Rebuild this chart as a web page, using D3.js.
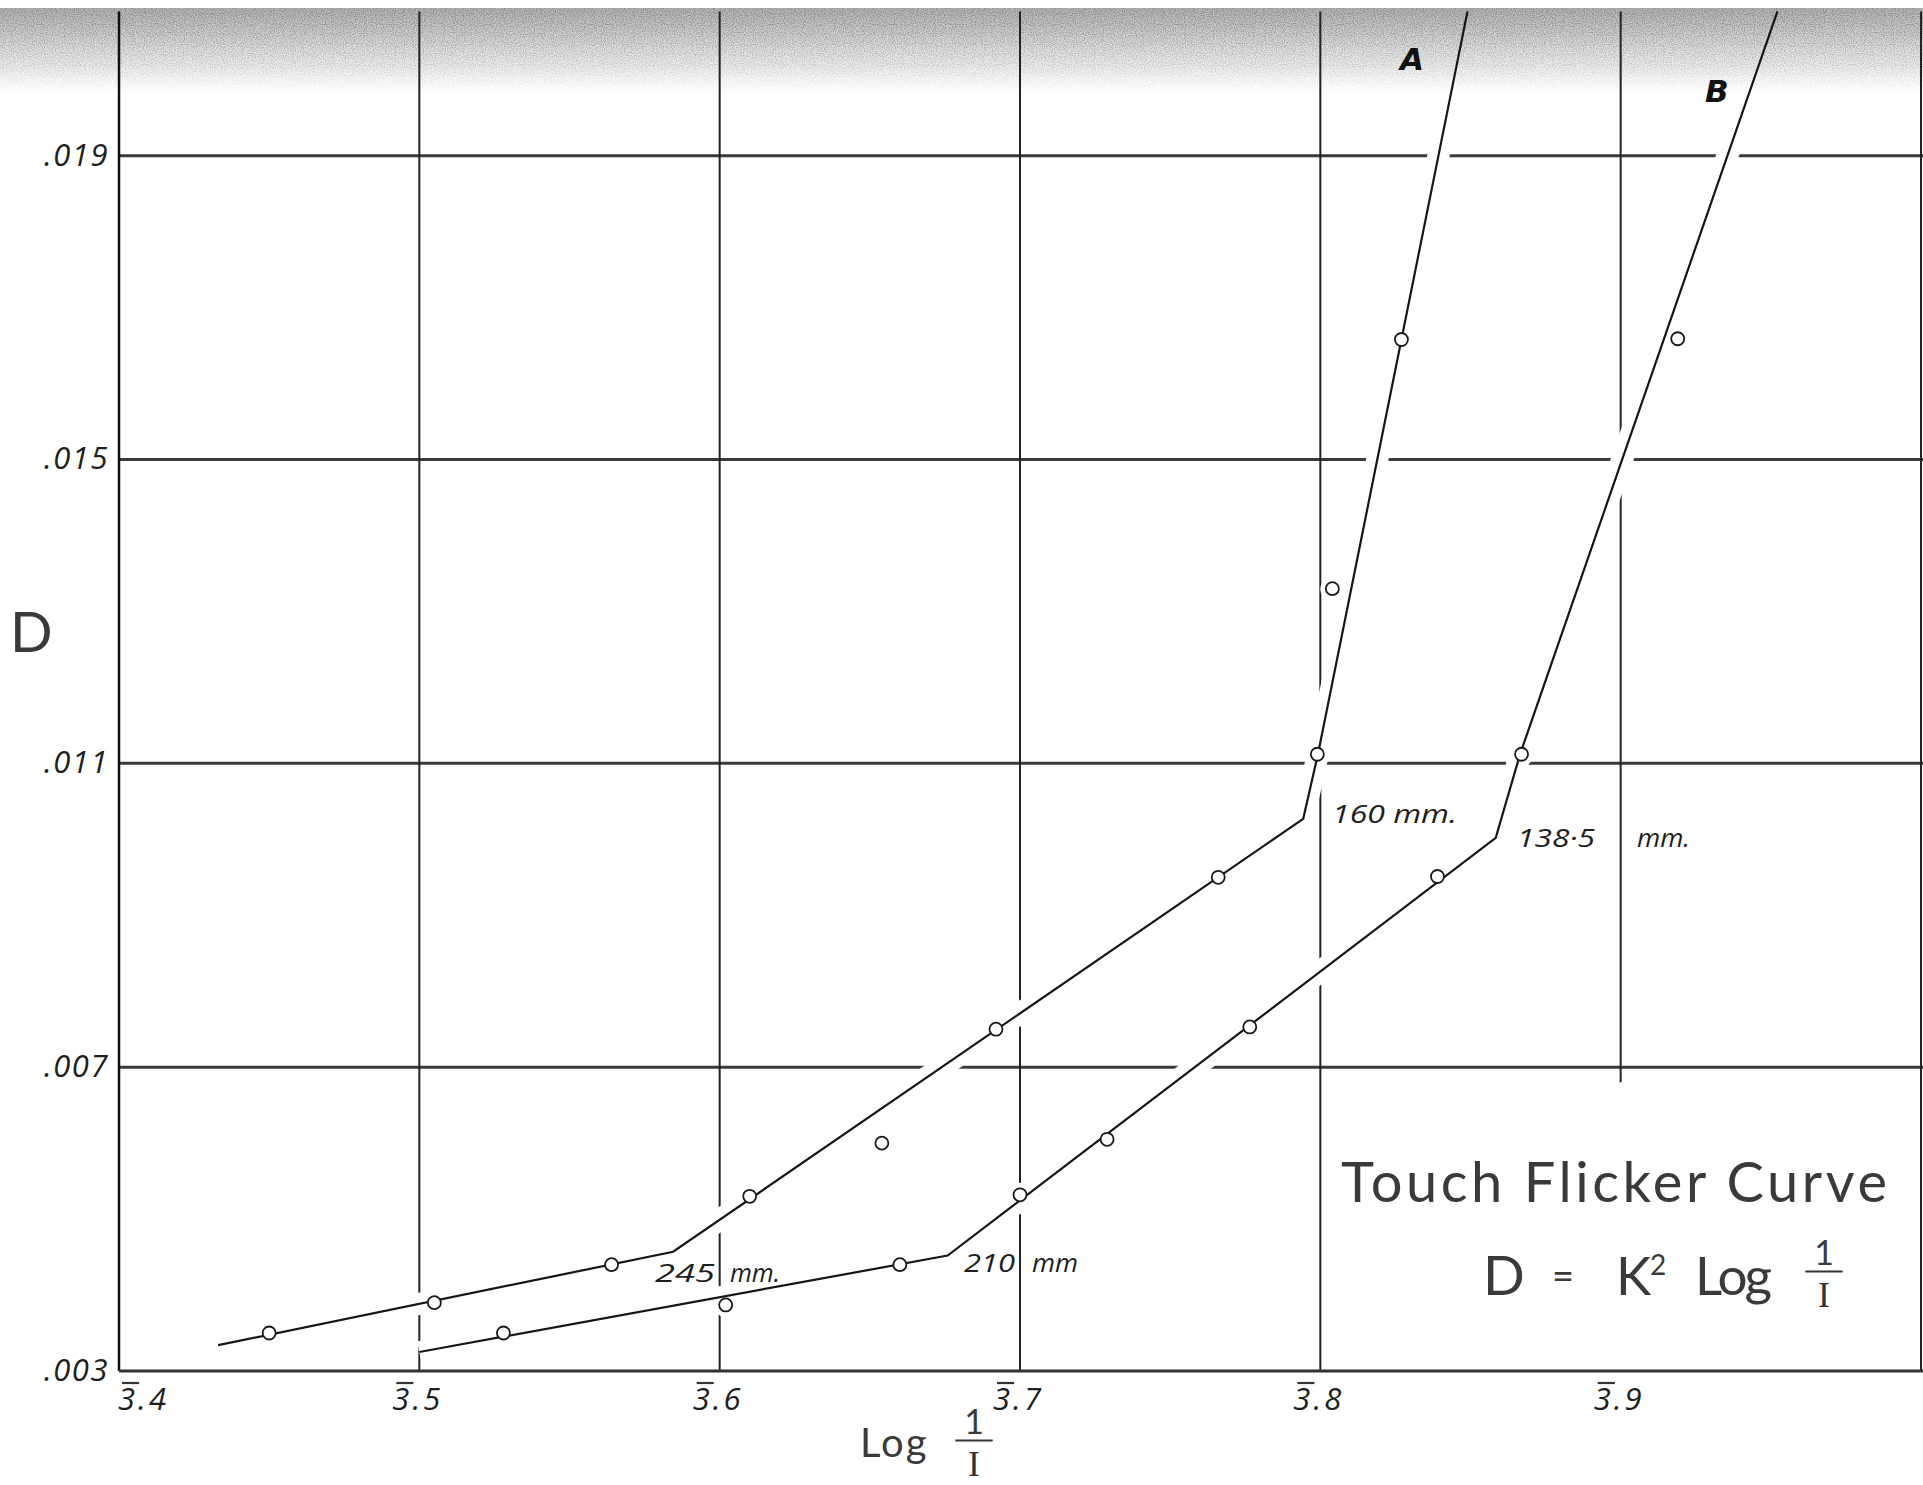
<!DOCTYPE html>
<html>
<head>
<meta charset="utf-8">
<script src="https://cdn.jsdelivr.net/npm/d3@7"></script>
<style>
  html, body { margin: 0; padding: 0; background: #fff; }
  svg { display: block; }
  .num { font-family: "Open Sans", "DejaVu Sans", sans-serif; font-style: italic; font-weight: 400; fill: #1e1e1e; }
  .hand { font-family: Lato, "Open Sans", sans-serif; font-weight: 400; fill: #3a3a3a; }
  .letter { font-family: "DejaVu Sans", sans-serif; font-weight: bold; font-style: oblique; fill: #111; }
</style>
</head>
<body>
<svg id="chart" width="1923" height="1485"></svg>
<script>
// axis ticks
const xTicks = [3.4, 3.5, 3.6, 3.7, 3.8, 3.9];
const xTickLabels = ['3.4', '3.5', '3.6', '3.7', '3.8', '3.9'];
const yTicks = [0.003, 0.007, 0.011, 0.015, 0.019];
const yTickLabels = ['.003', '.007', '.011', '.015', '.019'];

// curve A (observed points)
const aLogI = [3.450, 3.505, 3.564, 3.610, 3.654, 3.692, 3.766, 3.799, 3.804, 3.827];
const aD = [0.0035, 0.0039, 0.0044, 0.0053, 0.0060, 0.0075, 0.0095, 0.01112, 0.0133, 0.01658];
// curve A (drawn line)
const aLineLogI = [3.433, 3.5845, 3.7943, 3.7992, 3.849];
const aLineD = [0.00334, 0.00457, 0.01027, 0.01112, 0.0209];

// curve B (observed points)
const bLogI = [3.528, 3.602, 3.660, 3.700, 3.729, 3.7765, 3.839, 3.867, 3.919];
const bD = [0.0035, 0.00387, 0.0044, 0.00532, 0.00605, 0.00753, 0.00951, 0.01112, 0.01659];
// curve B (drawn line)
const bLineLogI = [3.500, 3.6759, 3.8584, 3.8665, 3.9522];
const bLineD = [0.00325, 0.00452, 0.01002, 0.01112, 0.0209];

const svg = d3.select('#chart');
const W = 1923, H = 1485;

const x = d3.scaleLinear().domain([3.4, 4.0]).range([119, 1921]);
const y = d3.scaleLinear().domain([0.003, 0.019]).range([1371, 155.7]);
const topD = 0.0209;

const zip = (xs, ys) => xs.map((v, i) => [v, ys[i]]);
const pointsA = zip(aLogI, aD);
const pointsB = zip(bLogI, bD);
const lineA = zip(aLineLogI, aLineD);
const lineB = zip(bLineLogI, bLineD);

// paper + scanned shading at the top
const defs = svg.append('defs');
const grad = defs.append('linearGradient')
  .attr('id', 'band').attr('gradientUnits', 'userSpaceOnUse')
  .attr('x1', 0).attr('y1', 8).attr('x2', 0).attr('y2', 95);
grad.append('stop').attr('offset', 0).attr('stop-color', '#000').attr('stop-opacity', 0.8);
grad.append('stop').attr('offset', 0.45).attr('stop-color', '#000').attr('stop-opacity', 0.5);
grad.append('stop').attr('offset', 1).attr('stop-color', '#000').attr('stop-opacity', 0);

const grad2 = defs.append('linearGradient')
  .attr('id', 'tone').attr('gradientUnits', 'userSpaceOnUse')
  .attr('x1', 0).attr('y1', 8).attr('x2', 0).attr('y2', 90);
grad2.append('stop').attr('offset', 0).attr('stop-color', '#b4b4b4');
grad2.append('stop').attr('offset', 0.5).attr('stop-color', '#e0e0e0');
grad2.append('stop').attr('offset', 1).attr('stop-color', '#fff');

const grain = defs.append('filter').attr('id', 'grain')
  .attr('x', 0).attr('y', 0).attr('width', 1).attr('height', 1);
grain.append('feTurbulence').attr('type', 'fractalNoise')
  .attr('baseFrequency', 0.9).attr('numOctaves', 1).attr('seed', 7).attr('result', 'n');
grain.append('feColorMatrix').attr('in', 'n').attr('type', 'matrix')
  .attr('values', '0 0 0 0 0.2  0 0 0 0 0.2  0 0 0 0 0.2  0 0 0 3.2 -1.3')
  .attr('result', 'dots');
grain.append('feComposite').attr('in', 'dots').attr('in2', 'SourceGraphic').attr('operator', 'in');

// halos only below the shaded band
defs.append('clipPath').attr('id', 'below-band')
  .append('rect').attr('x', 0).attr('y', 100).attr('width', W).attr('height', H - 100);

svg.append('rect').attr('width', W).attr('height', H).attr('fill', '#fff');
svg.append('rect').attr('x', 0).attr('y', 8).attr('width', W).attr('height', 85).attr('fill', 'url(#tone)');
svg.append('rect').attr('x', 0).attr('y', 8).attr('width', W).attr('height', 85)
  .attr('fill', 'url(#band)').attr('filter', 'url(#grain)');

// grid
const hGrid = yTicks.filter(d => d !== 0.003);
svg.append('g').selectAll('line').data(hGrid).join('line')
  .attr('x1', x(3.4)).attr('x2', W)
  .attr('y1', d => y(d)).attr('y2', d => y(d))
  .attr('stroke', '#3a3a3a').attr('stroke-width', 3);

const vGrid = xTicks.filter(d => d !== 3.4).concat([4.0]);
svg.append('g').selectAll('line').data(vGrid).join('line')
  .attr('x1', d => x(d)).attr('x2', d => x(d))
  .attr('y1', d => y(d === 3.9 ? 0.0068 : 0.003)).attr('y2', y(topD))
  .attr('stroke', '#222').attr('stroke-width', 2);

// white breaks where the curves cross the grid
const line = d3.line().x(d => x(d[0])).y(d => y(d[1]));
const halo = svg.append('g').attr('clip-path', 'url(#below-band)');
[lineA, lineB].forEach(l => {
  halo.append('path').attr('d', line(l))
    .attr('fill', 'none').attr('stroke', '#fff').attr('stroke-width', 22)
    .attr('stroke-linejoin', 'round');
});
halo.selectAll('circle').data(pointsA.concat(pointsB)).join('circle')
  .attr('cx', d => x(d[0])).attr('cy', d => y(d[1])).attr('r', 12).attr('fill', '#fff');

// axes lines
svg.append('line').attr('x1', x(3.4)).attr('x2', x(3.4))
  .attr('y1', y(0.003)).attr('y2', y(topD))
  .attr('stroke', '#111').attr('stroke-width', 2.5);
svg.append('line').attr('x1', x(3.4)).attr('x2', W)
  .attr('y1', y(0.003)).attr('y2', y(0.003))
  .attr('stroke', '#333').attr('stroke-width', 3);

// curves
[lineA, lineB].forEach(l => {
  svg.append('path').attr('d', line(l))
    .attr('fill', 'none').attr('stroke', '#161616').attr('stroke-width', 2.2);
});
svg.append('g').selectAll('circle').data(pointsA.concat(pointsB)).join('circle')
  .attr('cx', d => x(d[0])).attr('cy', d => y(d[1])).attr('r', 6.5)
  .attr('fill', '#fff').attr('stroke', '#1a1a1a').attr('stroke-width', 1.8);

// y tick labels
const yAxis = svg.append('g').attr('transform', `translate(${x(3.4)},0)`)
  .call(d3.axisLeft(y).tickValues(yTicks).tickFormat((d, i) => yTickLabels[i]).tickSize(0).tickPadding(10));
yAxis.select('.domain').remove();
yAxis.selectAll('text').attr('class', 'num').attr('font-size', 31)
  .attr('letter-spacing', 1.5).attr('dy', '0.3em');

// x tick labels with the bar over the characteristic
const xAxis = svg.append('g').attr('transform', `translate(0,${y(0.003)})`)
  .call(d3.axisBottom(x).tickValues(xTicks).tickFormat((d, i) => xTickLabels[i]).tickSize(0).tickPadding(17));
xAxis.select('.domain').remove();
xAxis.selectAll('text').attr('class', 'num').attr('font-size', 31)
  .attr('letter-spacing', 3)
  .attr('dx', (d, i) => i === 0 ? 24 : -2);
xAxis.selectAll('.tick').each(function () {
  const t = d3.select(this).select('text').node();
  const s = t.getStartPositionOfChar(0);
  const e = t.getEndPositionOfChar(0);
  d3.select(this).append('line')
    .attr('x1', s.x + 4).attr('x2', e.x + 1)
    .attr('y1', 12).attr('y2', 12)
    .attr('stroke', '#333').attr('stroke-width', 2.2);
});

// axis titles
svg.append('text').attr('class', 'hand').attr('x', 10).attr('y', 652)
  .attr('font-size', 56).text('D');

function fraction(cx, top, size) {
  const g = svg.append('g');
  g.append('text').attr('class', 'hand').attr('x', cx).attr('y', top + size * 0.72)
    .attr('text-anchor', 'middle').attr('font-size', size).text('1');
  g.append('line').attr('x1', cx - size * 0.55).attr('x2', cx + size * 0.55)
    .attr('y1', top + size * 0.9).attr('y2', top + size * 0.9)
    .attr('stroke', '#333').attr('stroke-width', 2);
  g.append('text').attr('x', cx).attr('y', top + size * 1.95)
    .attr('text-anchor', 'middle').attr('font-size', size * 1.05)
    .attr('font-family', '"Liberation Serif", "DejaVu Serif", serif').attr('fill', '#333').text('I');
}

svg.append('text').attr('class', 'hand').attr('x', 860).attr('y', 1457)
  .attr('font-size', 40).attr('letter-spacing', 2).text('Log');
fraction(974, 1410, 34);

// curve letters
svg.append('text').attr('class', 'letter').attr('x', 1400).attr('y', 70)
  .attr('font-size', 31).text('A');
svg.append('text').attr('class', 'letter').attr('x', 1705).attr('y', 102)
  .attr('font-size', 31).text('B');

// distance notes
const notes = [
  { t: '160 mm.', x: 1332, y: 823, w: 125 },
  { t: '138·5', x: 1517, y: 847, w: 78 },
  { t: 'mm.', x: 1637, y: 847, w: 53 },
  { t: '245', x: 655, y: 1282, w: 60 },
  { t: 'mm.', x: 730, y: 1282, w: 50 },
  { t: '210', x: 964, y: 1272, w: 51 },
  { t: 'mm', x: 1032, y: 1272, w: 46 }
];
svg.append('g').selectAll('text').data(notes).join('text')
  .attr('class', 'num').attr('font-size', 25)
  .attr('x', d => d.x).attr('y', d => d.y)
  .attr('textLength', d => d.w).attr('lengthAdjust', 'spacingAndGlyphs')
  .text(d => d.t);

// title and formula
svg.append('text').attr('class', 'hand').attr('x', 1341).attr('y', 1202)
  .attr('font-size', 56).attr('textLength', 546).attr('lengthAdjust', 'spacing')
  .text('Touch  Flicker Curve');
svg.append('text').attr('class', 'hand').attr('x', 1483).attr('y', 1295)
  .attr('font-size', 55).text('D');
svg.append('text').attr('class', 'hand').attr('x', 1552).attr('y', 1290)
  .attr('font-size', 38).text('=');
svg.append('text').attr('class', 'hand').attr('x', 1616).attr('y', 1295)
  .attr('font-size', 53).text('K');
svg.append('text').attr('class', 'hand').attr('x', 1650).attr('y', 1275)
  .attr('font-size', 28).text('2');
svg.append('text').attr('class', 'hand').attr('x', 1695).attr('y', 1295)
  .attr('font-size', 53).attr('textLength', 77).attr('lengthAdjust', 'spacing').text('Log');
fraction(1824, 1241, 34);
</script>
</body>
</html>
